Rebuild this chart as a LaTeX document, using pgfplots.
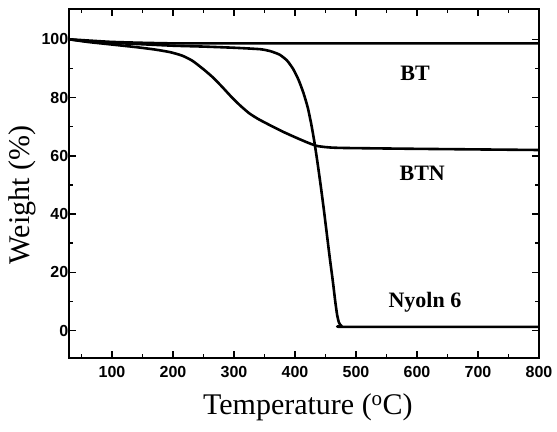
\documentclass[border=0pt]{standalone}
\usepackage{fontspec}
\setmainfont{Liberation Serif}
\newfontfamily\tickfont{Liberation Sans}
\usepackage{pgfplots}
\pgfplotsset{compat=1.18}

\begin{document}
\begin{tikzpicture}
\begin{axis}[
    scale only axis,
    width=469.7pt,
    height=348.4pt,
    xmin=30, xmax=800,
    ymin=-9.3, ymax=110.3,
    xtick={100,200,...,800},
    minor xtick={50,150,...,750},
    ytick={0,20,...,100},
    minor ytick={10,30,50,70,90},
    major tick length=7pt,
    minor tick length=4pt,
    tick style={line width=1.6pt, black},
    axis line style={line width=2.2pt},
    tick label style={font=\fontsize{16}{18}\selectfont\tickfont\bfseries},
    xticklabel style={yshift=-5pt},
    yticklabel style={xshift=2.5pt},
    /pgf/number format/assume math mode=true,
    xlabel={Temperature (\textsuperscript{o}C)},
    ylabel={Weight (\%)},
    label style={font=\fontsize{30}{33}\selectfont},
    xlabel style={at={(axis description cs:0.508,-0.1435)}, anchor=center},
    ylabel style={at={(axis description cs:-0.1007,0.467)}, anchor=center},
    tga/.style={black, no markers, line width=2.6pt, line join=round, smooth, tension=0.35},
]
% BT
\addplot[tga] coordinates {
  (30,100) (60,99.6) (100,99.1) (150,98.8) (200,98.6) (250,98.6) (400,98.6) (800,98.6)
};
% Nylon 6
\addplot[tga] coordinates {
  (30,100) (60,99.3) (100,98.8) (150,98.3) (200,97.8) (250,97.5) (300,97.1)
  (343,96.6) (360,95.9) (375,94.7) (387,92.7) (397,89.8) (406,86) (414,81.5)
  (421,76.5) (427,70.5) (432,64.5) (437,57.5) (442,50) (447,42) (452,33.5)
  (457,25) (462,17) (466,10) (469,5.5) (472,2.8) (476,1.6) (485,1.3) (800,1.3)
};
% BTN
\addplot[tga] coordinates {
  (30,100) (60,99.1) (100,98.2) (140,97.3) (170,96.5) (195,95.6) (215,94.4)
  (232,92.6) (250,89.7) (265,87.0) (280,83.8) (295,80.4) (310,77.3) (325,74.6)
  (340,72.6) (360,70.4) (380,68.3) (400,66.4) (420,64.6) (436,63.4) (455,62.9)
  (480,62.7) (600,62.4) (800,62.0)
};
\node[font=\fontsize{22}{24}\selectfont\bfseries] at (axis cs:597,88.4) {BT};
\node[font=\fontsize{22}{24}\selectfont\bfseries] at (axis cs:608.6,54.1) {BTN};
\node[font=\fontsize{22}{24}\selectfont\bfseries] at (axis cs:613,9.8) {Nyoln 6};
\end{axis}
\pgfresetboundingbox
\path ([xshift=-69.3pt,yshift=-73.3pt]current axis.south west)
  rectangle ([xshift=18pt,yshift=9.3pt]current axis.north east);
\end{tikzpicture}
\end{document}
